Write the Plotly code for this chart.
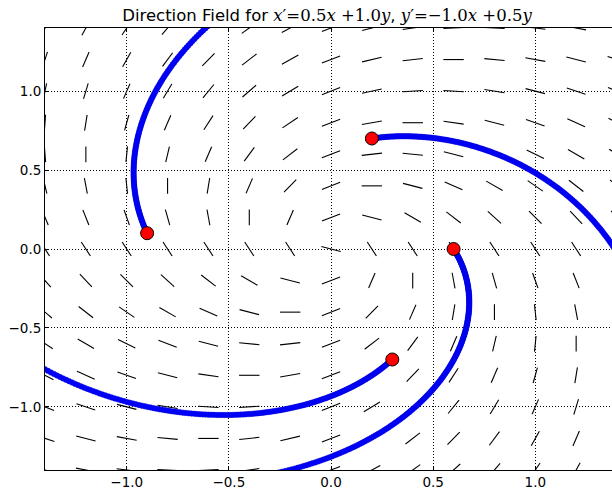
import numpy as np
import plotly.graph_objects as go

# ODE coefficients: x' = a*x + b*y, y' = c*x + d*y
coef_a, coef_b = 0.5, 1.0
coef_c, coef_d = -1.0, 0.5

# direction-field grid (data units)
grid_x = [-1.4, -1.2, -1.0, -0.8, -0.6, -0.4, -0.2, 0.0, 0.2, 0.4, 0.6, 0.8, 1.0, 1.2, 1.4]
grid_y = [-1.4, -1.2, -1.0, -0.8, -0.6, -0.4, -0.2, 0.0, 0.2, 0.4, 0.6, 0.8, 1.0, 1.2, 1.4]
seg_len = 0.1

# initial conditions of the trajectories
init_x = [-0.9, 0.2, 0.6, 0.3]
init_y = [0.1, 0.7, 0.0, -0.7]
t_end = 2.0
n_steps = 200

# axis ticks
tick_vals = [-1.0, -0.5, 0.0, 0.5, 1.0]

fig = go.Figure()

# direction field segments
sx, sy = [], []
for gx in grid_x:
    for gy in grid_y:
        px, py = gx, gy
        if px == 0 and py == 0:
            px, py = 1e-12, 1e-12
        u = coef_a * px + coef_b * py
        v = coef_c * px + coef_d * py
        n = np.hypot(u, v)
        u, v = u / n * seg_len / 2, v / n * seg_len / 2
        sx += [gx - u, gx + u, None]
        sy += [gy - v, gy + v, None]
fig.add_trace(go.Scatter(x=sx, y=sy, mode="lines",
                         line=dict(color="black", width=1.1),
                         hoverinfo="skip", showlegend=False))

# trajectories (exact solution of the linear system)
t = np.linspace(0, t_end, n_steps)
for x0, y0 in zip(init_x, init_y):
    e = np.exp(coef_a * t)
    xs = e * (x0 * np.cos(t) + y0 * np.sin(t))
    ys = e * (-x0 * np.sin(t) + y0 * np.cos(t))
    fig.add_trace(go.Scatter(x=xs, y=ys, mode="lines+markers",
                             line=dict(color="blue", width=2.5),
                             marker=dict(color="blue", size=5.5,
                                         line=dict(color="#0000cc", width=0.5)),
                             cliponaxis=True, showlegend=False))

fig.add_trace(go.Scatter(x=init_x, y=init_y, mode="markers",
                         marker=dict(color="red", size=13,
                                     line=dict(color="black", width=1)),
                         showlegend=False))

serif = "font-family:'DejaVu Serif',serif"
title = ("Direction Field for "
         f"<span style=\"{serif}\"><i>x</i>′=0.5<i>x</i> +1.0<i>y</i></span>, "
         f"<span style=\"{serif}\"><i>y</i>′=−1.0<i>x</i> +0.5<i>y</i></span>")

axis_common = dict(
    showgrid=True, gridcolor="black", gridwidth=0.8, griddash="1px,2px",
    zeroline=False, showline=True, linecolor="black", linewidth=1,
    ticks="inside", ticklen=4, tickcolor="black", tickwidth=1,
    tickvals=tick_vals, tickformat=".1f",
    tickfont=dict(family="DejaVu Sans", size=13.5, color="black"),
)

fig.update_layout(
    width=612, height=489,
    margin=dict(l=45, r=0, t=28, b=19),
    paper_bgcolor="white", plot_bgcolor="white",
    title=dict(text=title, x=327 / 612, xanchor="center", y=1 - 15 / 489,
               yanchor="middle",
               font=dict(family="DejaVu Sans", size=16.5, color="black")),
    xaxis=dict(range=[-1.4, 1.3755], mirror="ticks", **axis_common),
    yaxis=dict(range=[-1.4, 1.4], mirror=False, **axis_common),
)

fig.write_html("out.html",
               config={"displayModeBar": False},
               post_script="document.body.style.margin='0';"
                           "document.body.style.overflow='hidden';")
